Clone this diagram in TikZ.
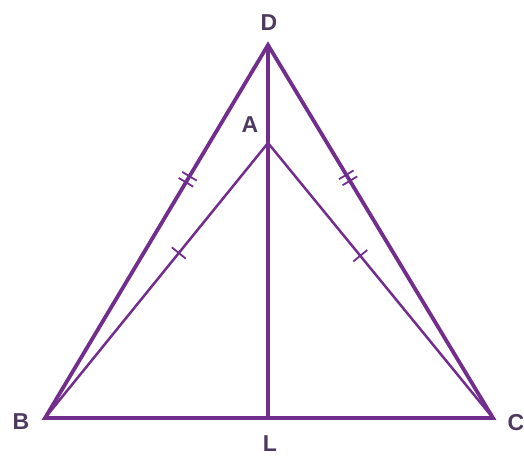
\documentclass[tikz,border=0pt]{standalone}
\usepackage{fontspec}
\setmainfont{Liberation Sans}
\usetikzlibrary{calc}
\definecolor{pur}{HTML}{722E8C}
\definecolor{lab}{HTML}{4E3A5E}
\begin{document}
\begin{tikzpicture}[x=1pt,y=-1pt,
  thick line/.style={draw=pur,line width=3.8pt,line join=miter},
  thin line/.style={draw=pur,line width=2.5pt},
  tickmark/.style={draw=pur,line width=1.8pt},
  lbl/.style={text=lab,font=\bfseries\fontsize{23}{23}\selectfont,inner sep=0pt}]
\useasboundingbox (0,0) rectangle (524,460);
\coordinate (D) at (268,45);
\coordinate (A) at (268,143);
\coordinate (B) at (45,418);
\coordinate (C) at (493,418);
\coordinate (L) at (268,418);
% lines
\draw[thin line] (B) -- (A) -- (C);
\draw[thick line] (D) -- (L);
\draw[thick line] (B) -- (D) -- (C) -- cycle;
% ticks
\coordinate (t1) at ($(D)!0.36!(B)$);
\coordinate (t2) at ($(D)!0.356!(C)$);
\coordinate (t3) at ($(A)!0.40!(B)$);
\coordinate (t4) at ($(A)!0.41!(C)$);
\foreach \p/\q/\s in {t1/D/-3.5,t1/D/3.5,t2/D/-3.5,t2/D/3.5}{
  \draw[tickmark] ($(\p)!\s pt!(\q)$) -- ($($(\p)!\s pt!(\q)$)!8.5pt!90:(\q)$);
  \draw[tickmark] ($(\p)!\s pt!(\q)$) -- ($($(\p)!\s pt!(\q)$)!8.5pt!-90:(\q)$);
}
\foreach \p/\q in {t3/A,t4/A}{
  \draw[tickmark] (\p) -- ($(\p)!9pt!90:(\q)$);
  \draw[tickmark] (\p) -- ($(\p)!9pt!-90:(\q)$);
}
% labels
\node[lbl] (lD) at (269,23) {D};
\node[lbl] (lA) at (250,125) {A};
\node[lbl] (lB) at (21,422) {B};
\node[lbl] (lC) at (516,423) {C};
\node[lbl] (lL) at (270,444) {L};
\end{tikzpicture}
\end{document}
